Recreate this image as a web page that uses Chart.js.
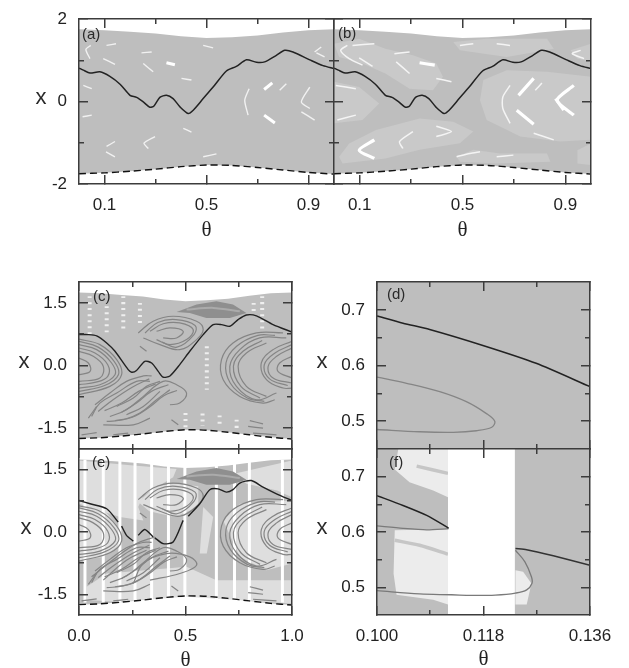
<!DOCTYPE html>
<html>
<head>
<meta charset="utf-8">
<title>Panels (a)-(f)</title>
<script src="https://cdn.jsdelivr.net/npm/chart.js@4"></script>
<style>
  html, body { margin: 0; padding: 0; background: #fff; overflow: hidden; }
  body { width: 629px; height: 668px; position: relative; }
  canvas { position: absolute; filter: blur(0.45px); }
</style>
</head>
<body>
<script>
// Attractor edges (a), (c), (e)
const edgeTheta = [0, 0.1, 0.2, 0.3, 0.4, 0.5, 0.6, 0.7, 0.8, 0.9, 1];
const edgeUpper = [1.75, 1.73, 1.69, 1.65, 1.58, 1.54, 1.56, 1.6, 1.67, 1.73, 1.75];
const edgeLower = [-1.75, -1.73, -1.69, -1.64, -1.58, -1.54, -1.55, -1.6, -1.66, -1.72, -1.76];

// Black curves
const curveAB = [[0,.81],[.017,.76],[.043,.69],[.082,.72],[.121,.61],[.161,.42],[.2,.15],[.226,.1],[.252,-.01],[.278,-.14],[.294,-.11],[.317,.1],[.343,.15],[.369,.07],[.396,-.13],[.428,-.29],[.448,-.21],[.487,.07],[.526,.35],[.578,.74],[.617,.85],[.657,1.01],[.696,.95],[.728,.96],[.774,1.12],[.807,1.24],[.839,1.2],[.905,1.01],[.957,.87],[1,.8]];
const curveC = [[0,.74],[.044,.74],[.083,.71],[.13,.54],[.169,.34],[.231,-.1],[.247,-.16],[.27,-.12],[.309,.1],[.341,.06],[.372,-.14],[.395,-.28],[.427,-.25],[.473,.02],[.52,.34],[.583,.74],[.63,.98],[.669,.98],[.708,.94],[.747,1.1],[.786,1.21],[.833,1.19],[.911,.98],[1,.8]];
const curveE = [
  [[0,.76],[.052,.68],[.13,.56],[.184,.24]],
  [[.2,.14],[.223,-.08],[.255,-.22]],
  [[.278,-.08],[.309,.06],[.348,-.12]],
  [[.356,-.14],[.395,-.28],[.442,-.24],[.489,.28]],
  [[.513,.38],[.567,.68],[.614,1.02],[.653,1.04],[.692,.96],[.723,1.02],[.755,1.18],[.809,1.24],[.864,1.08],[.927,.92],[1,.76]]
];

// White marks in (a)
const holesA = [
  [[.046,1.36],[.027,1.26],[.043,1.04]], [[.095,1.04],[.141,.9]], [[.108,1.36],[.145,1.4]],
  [[.245,1.18],[.285,1.2]], [[.252,.92],[.291,.72]], [[.017,.39],[.05,.31]], [[.014,-.37],[.05,-.33]],
  [[.402,.56],[.441,.52]], [[.667,.31],[.65,.03],[.663,-.33]], [[.787,.27],[.813,.43]],
  [[.905,.35],[.872,-.01],[.905,-.17]], [[.872,-.25],[.924,-.45]], [[.108,-1.09],[.141,-.97]],
  [[.106,-1.22],[.141,-1.34]], [[.298,-.85],[.255,-1.01],[.272,-1.14]], [[.409,-.65],[.441,-.74]],
  [[.487,-1.34],[.539,-1.27]], [[.487,1.36],[.526,1.3]], [[.924,1.2],[.95,1.32]], [[.931,1.18],[.963,1.08]]
];
const boldA = [[[.343,.94],[.376,.89]], [[.726,.29],[.758,.45]], [[.726,-.33],[.768,-.52]]];

// Speckled zones and white marks in (b)
const zonesB = [
  [[0,1.4],[.098,1.52],[.2,1.28],[.307,1.12],[.398,.92],[.424,.6],[.385,.27],[.294,.31],[.2,.68],[.111,.92],[.02,1.08]],
  [[.464,1.44],[.594,1.52],[.829,1.52],[.855,1.28],[.672,1.08],[.49,1.24]],
  [[.568,.03],[.581,.52],[.672,.76],[.829,.72],[1,.6],[1,-.93],[.881,-.97],[.725,-.85],[.594,-.45]],
  [[0,.48],[.098,.35],[.176,-.05],[.111,-.45],[0,-.53]],
  [[.02,-1.34],[.059,-1.02],[.163,-.69],[.333,-.41],[.464,-.49],[.542,-.73],[.49,-1.01],[.333,-1.17],[.2,-1.38],[.033,-1.5]],
  [[.477,-1.34],[.542,-1.17],[.646,-1.26],[.829,-1.26],[.842,-1.46],[.633,-1.5],[.49,-1.46]],
  [[.92,1.24],[1,1.4],[1,.96],[.947,1.04]],
  [[.947,-1.18],[1,-1.02],[1,-1.54],[.947,-1.5]]
];
const holesB = [
  [[.052,1.36],[.026,1.24],[.059,1.04],[.111,.88]], [[.098,1.06],[.15,.85]], [[.072,1.36],[.157,1.4]],
  [[.235,1.16],[.294,1.2]], [[.242,.96],[.294,.68]], [[.007,.39],[.085,.31]], [[.013,-.45],[.085,-.33]],
  [[.398,.56],[.457,.48]], [[.685,.39],[.657,.11],[.657,-.17],[.685,-.53]], [[.783,.27],[.809,.45]],
  [[.307,-.73],[.255,-.97],[.268,-1.14]], [[.398,-.6],[.457,-.73],[.398,-.85]],
  [[.477,-1.34],[.529,-1.26],[.568,-1.22]], [[.633,-1.34],[.698,-1.3]], [[.49,1.36],[.542,1.4]],
  [[.633,1.4],[.685,1.36]], [[.96,1.24],[.927,1.16],[.973,1.04]], [[.777,-.77],[.855,-.93]]
];
const boldB = [
  [[.333,.94],[.392,.88]], [[.718,.15],[.777,.56]], [[.711,-.21],[.777,-.55]],
  [[.933,.39],[.868,.03],[.933,-.33]], [[.862,.07],[.894,-.21]], [[.157,-.93],[.098,-1.18],[.157,-1.38]]
];

// Dark swirls shared by (c) and (e)
const swirlLens = [[.458,1.28],[.552,1.46],[.645,1.54],[.723,1.46],[.786,1.26],[.708,1.14],[.598,1.14],[.52,1.26]];
const lensStreak = [[.505,1.34],[.63,1.38],[.755,1.3]];
const swirls = [
  [[0,.63],[.098,.5],[.177,.14],[.2,-.22],[.145,-.5],[0,-.7]],
  [[0,.58],[.09,.44],[.165,.1],[.185,-.22],[.12,-.48],[0,-.62]],
  [[0,.5],[.083,.38],[.153,.06],[.169,-.22],[.098,-.46],[0,-.54]],
  [[0,.42],[.075,.3],[.135,.02],[.135,-.26],[.08,-.4],[0,-.46]],
  [[0,.34],[.067,.22],[.114,-.02],[.098,-.3],[0,-.38]],
  [[0,.18],[.044,.06],[.052,-.14],[0,-.22]],
  [[.278,.78],[.348,1.06],[.442,1.18],[.552,1.06],[.583,.86],[.552,.62],[.473,.38],[.38,.5],[.302,.66]],
  [[.31,.78],[.37,1.03],[.455,1.1],[.545,.96],[.54,.74],[.46,.44],[.39,.56]],
  [[.333,.82],[.395,1],[.473,1.02],[.536,.86],[.505,.62],[.427,.5],[.364,.62]],
  [[.364,.82],[.427,.9],[.489,.82],[.458,.66],[.395,.66]],
  [[.286,.46],[.317,.34]],
  [[.075,-.94],[.145,-.66],[.223,-.38],[.302,-.25],[.341,-.25]],
  [[.059,-1.22],[.098,-.9],[.177,-.66],[.27,-.38],[.333,-.38]],
  [[.09,-1.1],[.16,-.82],[.25,-.52],[.33,-.32]],
  [[.12,-1.08],[.2,-.9],[.28,-.62],[.36,-.44]],
  [[.145,-1.22],[.223,-1.06],[.302,-.74],[.395,-.38],[.458,-.46],[.505,-.66],[.473,-.9],[.427,-.94]],
  [[.17,-1.32],[.25,-1.24],[.33,-1],[.4,-.72],[.46,-.6]],
  [[.2,-1.12],[.27,-.9],[.34,-.62],[.42,-.46]],
  [[.13,-1.34],[.208,-1.3],[.286,-1.14],[.364,-.82],[.427,-.58]],
  [[.177,-.98],[.255,-.78],[.317,-.5],[.38,-.38]],
  [[.114,-1.42],[.255,-1.42],[.333,-1.26]],
  [[.044,-1.26],[.083,-.98]],
  [[.223,-1.18],[.302,-.98],[.38,-.62]],
  [[.958,.78],[.833,.78],[.723,.54],[.669,.14],[.677,-.34],[.755,-.74],[.864,-.9],[.919,-.82]],
  [[.92,.72],[.84,.72],[.74,.46],[.69,.06],[.71,-.42],[.79,-.78],[.87,-.86]],
  [[.973,.66],[.848,.66],[.755,.38],[.708,-.02],[.739,-.5],[.833,-.82],[.927,-.66]],
  [[.86,.6],[.77,.34],[.725,-.02],[.76,-.5],[.85,-.78]],
  [[.88,.54],[.786,.3],[.747,-.02],[.786,-.5],[.88,-.74]],
  [[1,.58],[.911,.38],[.856,.06],[.88,-.34],[.958,-.54],[1,-.54]],
  [[1,.5],[.92,.3],[.87,.02],[.895,-.32],[.98,-.48]],
  [[1,.42],[.928,.22],[.888,-.02],[.911,-.3],[1,-.42]],
  [[1,.22],[.942,.06],[.934,-.14],[1,-.3]],
  [[.012,-1.66],[.083,-1.61]], [[.161,-1.66],[.231,-1.62]], [[.802,-1.32],[.864,-1.4]],
  [[.794,-1.46],[.864,-1.5]], [[.817,-1.62],[.927,-1.66]], [[.434,-1.3],[.466,-1.42]]
];
const swirlsExtraE = [
  [[.059,-1.08],[.177,-.6],[.27,-.28],[.356,-.12]],
  [[.114,-1.16],[.223,-.68],[.317,-.44]],
  [[.255,-1.24],[.302,-.76],[.411,-.52],[.52,-.6],[.552,-.8],[.473,-1],[.333,-1.16]]
];

// Speckle columns in (c)
const columnsC = [
  [[.05,1.66],[.05,.7]], [[.13,1.42],[.13,.78]], [[.208,1.66],[.208,.86]], [[.286,1.5],[.286,.94]],
  [[.6,.46],[.6,-.58]], [[.86,1.66],[.86,.86]], [[.82,1.5],[.82,1.3]], [[.5,-1.14],[.5,-1.5]],
  [[.66,-1.2],[.66,-1.45]], [[.58,-1.15],[.58,-1.45]], [[.74,-1.3],[.74,-1.55]]
];

// Speckled zones and white stripes in (e)
const zonesE = [
  [[0,1.72],[.255,1.6],[.458,1.52],[.442,1.32],[.302,.88],[.278,.6],[.302,.28],[.192,.36],[0,.68]],
  [[.723,1.4],[1,1.72],[1,.84],[.93,1],[.786,1.16]],
  [[0,.64],[.114,.56],[.184,.12],[.2,-.28],[.114,-.6],[0,-.68]],
  [[.677,.28],[.755,.68],[1,.76],[1,-.76],[.88,-.92],[.755,-.6]],
  [[.036,-1.32],[.13,-1],[.505,-.84],[.645,-1.16],[1,-1.16],[1,-1.72],[.505,-1.56],[.177,-1.68],[.036,-1.64]],
  [[.583,.6],[.63,.36],[.6,-.52],[.567,-.52]],
  [[.278,.72],[.36,1.1],[.45,1.16],[.56,1.1],[.56,.6],[.45,.36],[.33,.5]]
];
const stripesE = [.028, .114, .192, .263, .341, .42, .497, .645, .73, .8, .955];

// Panels (d) and (f)
const zoomTheta = [0.1, 0.136];
const zoomX = [0.45, 0.75];
const curveD = [[.1,.689],[.1044,.676],[.1089,.6647],[.1179,.636],[.1269,.604],[.136,.562]];
const loopD = [[.1,.579],[.105,.568],[.1106,.553],[.1151,.535],[.1185,.5136],[.1199,.5],[.1194,.489],[.1168,.4828],[.1129,.48],[.1072,.481],[.1,.485]];
const gapF = [.112, .1233];
const speckF = [
  [[.1036,.75],[.112,.75],[.112,.663],[.1095,.675],[.1055,.69],[.103,.713]],
  [[.103,.603],[.112,.605],[.112,.469],[.1095,.4776],[.1033,.4866],[.1028,.525]],
  [[.1234,.531],[.1247,.528],[.1261,.507],[.1253,.469],[.1234,.469]]
];
const bandsF = [
  [[.1067,.719],[.112,.706]],
  [[.103,.585],[.1072,.576],[.112,.56]]
];
const curveF1 = [[.1,.6657],[.1044,.648],[.1084,.63],[.1121,.607]];
const curveF2 = [[.1234,.57],[.1253,.568],[.1298,.557],[.136,.54]];
const loopF1 = [[.1121,.606],[.1084,.604],[.1044,.6066],[.1,.611]];
const loopF2 = [[.1234,.567],[.125,.546],[.1261,.519],[.1262,.5075],[.1253,.4955],[.1234,.4896],[.12,.486],[.116,.4854],[.1126,.4866],[.1072,.488],[.1,.494]];

// Tick lists
const ticksAB = { xMajor: [.1, .5, .9], xMinor: [.3, .7], yMajor: [-2, 0, 2], yMinor: [-1, 1] };
const ticksCE = { xMajor: [0, .5, 1], xMinor: [.25, .75], yMajor: [-1.5, 0, 1.5], yMinor: [-.75, .75] };
const ticksDF = { xMajor: [.1, .118, .136], xMinor: [.109, .127], yMajor: [.5, .6, .7], yMinor: [.55, .65] };

const GRAY = '#bebebe';
const DARK = '#858585';
const INK = '#3c3c3c';

function zip(xs, ys) {
  return xs.map((x, i) => [x, ys[i]]);
}

function lineSet(pts, color, width, extra) {
  return Object.assign({
    data: pts.map(p => ({ x: p[0], y: p[1] })),
    showLine: true,
    pointRadius: 0,
    borderColor: color,
    borderWidth: width,
    tension: 0.25,
    fill: false
  }, extra || {});
}

function fillSet(pts, color) {
  return {
    data: pts.map(p => ({ x: p[0], y: p[1] })),
    showLine: true,
    pointRadius: 0,
    borderWidth: 0,
    backgroundColor: color,
    tension: 0,
    fill: 'shape'
  };
}

function bandPolygon() {
  return zip(edgeTheta, edgeUpper).concat(zip(edgeTheta, edgeLower).reverse());
}

function rectPolygon(xr, yr) {
  return [[xr[0], yr[0]], [xr[1], yr[0]], [xr[1], yr[1]], [xr[0], yr[1]]];
}

function dashedEdge() {
  return lineSet(zip(edgeTheta, edgeLower), '#111', 1.4, { borderDash: [7, 4] });
}

function axis(position, range, values, tickLen, opts) {
  const horizontal = position === 'bottom' || position === 'top';
  const o = opts || {};
  return {
    type: 'linear',
    axis: horizontal ? 'x' : 'y',
    position: position,
    min: range[0],
    max: range[1],
    weight: o.weight || 0,
    border: { display: !!o.border, color: INK, width: 1.5, z: 1 },
    grid: { drawOnChartArea: false, color: INK, lineWidth: 1.5, tickLength: -tickLen, z: 1 },
    ticks: {
      display: !!o.format,
      autoSkip: false,
      maxRotation: 0,
      padding: tickLen + (horizontal ? 11 : 12),
      color: '#222',
      font: { family: '"Liberation Sans"', size: 17 },
      callback: o.format ? (v => o.format(v)) : undefined
    },
    title: o.title ? {
      display: true,
      text: o.title,
      padding: 0,
      color: '#222',
      font: { family: '"Liberation Serif"', size: 21 }
    } : { display: false },
    afterBuildTicks: s => { s.ticks = values.map(v => ({ value: v })); },
    afterFit: s => {
      if (horizontal) s.height = o.size || 0;
      else s.width = o.size || 0;
      // labels may hang past the plot, the box must not shrink for them
      s.paddingLeft = s.paddingRight = s.paddingTop = s.paddingBottom = 0;
    }
  };
}

const panelText = {
  id: 'panelText',
  afterDraw(chart, args, opts) {
    const ctx = chart.ctx;
    const area = chart.chartArea;
    ctx.save();
    ctx.fillStyle = '#2a2a2a';
    ctx.textBaseline = 'middle';
    ctx.font = '15px "Liberation Sans"';
    ctx.fillText(opts.tag, area.left + opts.tagDx, area.top + opts.tagDy);
    if (opts.yName) {
      ctx.textAlign = 'center';
      ctx.font = '22px "Liberation Sans"';
      ctx.fillText('x', area.left - opts.yNameDx, (area.top + area.bottom) / 2 - 4);
    }
    ctx.restore();
  }
};

function panel(box, xRange, yRange, ticks, datasets, labels) {
  const canvas = document.createElement('canvas');
  const padLeft = labels.padLeft;
  const padTop = 14;
  const padRight = 26;
  const bottom = labels.bottom || 6;
  canvas.style.left = (box.l - padLeft) + 'px';
  canvas.style.top = (box.t - padTop) + 'px';
  canvas.width = box.r - box.l + padLeft + padRight;
  canvas.height = box.b - box.t + padTop + bottom;
  document.body.appendChild(canvas);

  // later in the list paints on top
  datasets.forEach((d, i) => { d.order = -i; });

  new Chart(canvas, {
    type: 'scatter',
    data: { datasets: datasets },
    plugins: [panelText],
    options: {
      responsive: false,
      animation: false,
      layout: { padding: { top: padTop, right: padRight, bottom: labels.bottom ? 0 : bottom, left: 0 } },
      plugins: {
        legend: { display: false },
        tooltip: { enabled: false },
        panelText: labels.text
      },
      scales: {
        x: axis('bottom', xRange, ticks.xMajor, 9, { border: true, format: labels.xFormat, title: labels.xTitle, size: labels.bottom || 0 }),
        xMinor: axis('bottom', xRange, ticks.xMinor, 5, { weight: -1 }),
        xTop: axis('top', xRange, ticks.xMajor, 9, { border: true }),
        xTopMinor: axis('top', xRange, ticks.xMinor, 5, { weight: -1 }),
        y: axis('left', yRange, ticks.yMajor, 9, { border: true, format: labels.yFormat, size: padLeft }),
        yMinor: axis('left', yRange, ticks.yMinor, 5, { weight: -1 }),
        yRight: axis('right', yRange, ticks.yMajor, 9, { border: true }),
        yRightMinor: axis('right', yRange, ticks.yMinor, 5, { weight: -1 })
      }
    }
  });
}

const fix1 = v => v.toFixed(1);
const fix3 = v => v.toFixed(3);
const plain = v => String(v);

// (a)
panel({ l: 79, r: 334, t: 19, b: 184 }, [0, 1], [-2, 2], ticksAB, [
  fillSet(bandPolygon(), GRAY),
  ...holesA.map(h => lineSet(h, '#f1f1f1', 1.4)),
  ...boldA.map(h => lineSet(h, '#fff', 3)),
  dashedEdge(),
  lineSet(curveAB, '#222', 1.5)
], {
  padLeft: 79, bottom: 59, xFormat: fix1, yFormat: plain, xTitle: 'θ',
  text: { tag: '(a)', tagDx: 3, tagDy: 16, yName: true, yNameDx: 38 }
});

// (b)
panel({ l: 334, r: 591, t: 19, b: 184 }, [0, 1], [-2, 2], ticksAB, [
  fillSet(bandPolygon(), GRAY),
  ...zonesB.map(z => fillSet(z, '#c9c9c9')),
  ...holesB.map(h => lineSet(h, '#f4f4f4', 1.5)),
  ...boldB.map(h => lineSet(h, '#fff', 3.2)),
  dashedEdge(),
  lineSet(curveAB, '#222', 1.5)
], {
  padLeft: 10, bottom: 59, xFormat: fix1, xTitle: 'θ',
  text: { tag: '(b)', tagDx: 4, tagDy: 15 }
});

// (c)
panel({ l: 79, r: 292, t: 282, b: 449 }, [0, 1], [-2, 2], ticksCE, [
  fillSet(bandPolygon(), GRAY),
  ...columnsC.map(c => lineSet(c, 'rgba(255,255,255,.75)', 4, { borderDash: [2, 4] })),
  fillSet(swirlLens, '#8f8f8f'),
  lineSet(lensStreak, '#ababab', 2),
  ...swirls.map(s => lineSet(s, DARK, 1.2, { tension: 0.4 })),
  dashedEdge(),
  lineSet(curveC, '#222', 1.4)
], {
  padLeft: 79, yFormat: fix1,
  text: { tag: '(c)', tagDx: 14, tagDy: 15, yName: true, yNameDx: 55 }
});

// (d)
panel({ l: 377, r: 590, t: 282, b: 449 }, zoomTheta, zoomX, ticksDF, [
  fillSet(rectPolygon(zoomTheta, zoomX), GRAY),
  lineSet(loopD, '#858585', 1.3, { tension: 0.35 }),
  lineSet(curveD, '#222', 1.5)
], {
  padLeft: 67, yFormat: fix1,
  text: { tag: '(d)', tagDx: 10, tagDy: 13, yName: true, yNameDx: 55 }
});

// (e)
panel({ l: 79, r: 292, t: 449, b: 615 }, [0, 1], [-2, 2], ticksCE, [
  fillSet(bandPolygon(), GRAY),
  ...zonesE.map(z => fillSet(z, '#dedede')),
  ...stripesE.map(x => lineSet([[x, 1.74], [x, -1.7]], '#fff', 3)),
  fillSet(swirlLens, '#8f8f8f'),
  lineSet(lensStreak, '#ababab', 2),
  ...swirls.map(s => lineSet(s, DARK, 1.2, { tension: 0.4 })),
  ...swirlsExtraE.map(s => lineSet(s, DARK, 1.2, { tension: 0.4 })),
  dashedEdge(),
  ...curveE.map(s => lineSet(s, '#222', 1.4))
], {
  padLeft: 79, bottom: 58, xFormat: fix1, yFormat: fix1, xTitle: 'θ',
  text: { tag: '(e)', tagDx: 13, tagDy: 14, yName: true, yNameDx: 53 }
});

// (f)
panel({ l: 377, r: 590, t: 449, b: 615 }, zoomTheta, zoomX, ticksDF, [
  fillSet(rectPolygon(zoomTheta, zoomX), GRAY),
  ...speckF.map(z => fillSet(z, '#ececec')),
  ...bandsF.map(b => lineSet(b, '#c6c6c6', 3.5)),
  fillSet(rectPolygon(gapF, zoomX), '#fff'),
  lineSet(loopF1, '#7a7a7a', 1.3),
  lineSet(loopF2, '#7a7a7a', 1.3, { tension: 0.35 }),
  lineSet(curveF1, '#222', 1.5),
  lineSet(curveF2, '#333', 1.5)
], {
  padLeft: 67, bottom: 57, xFormat: fix3, yFormat: fix1, xTitle: 'θ',
  text: { tag: '(f)', tagDx: 12, tagDy: 14, yName: true, yNameDx: 55 }
});
</script>
</body>
</html>
